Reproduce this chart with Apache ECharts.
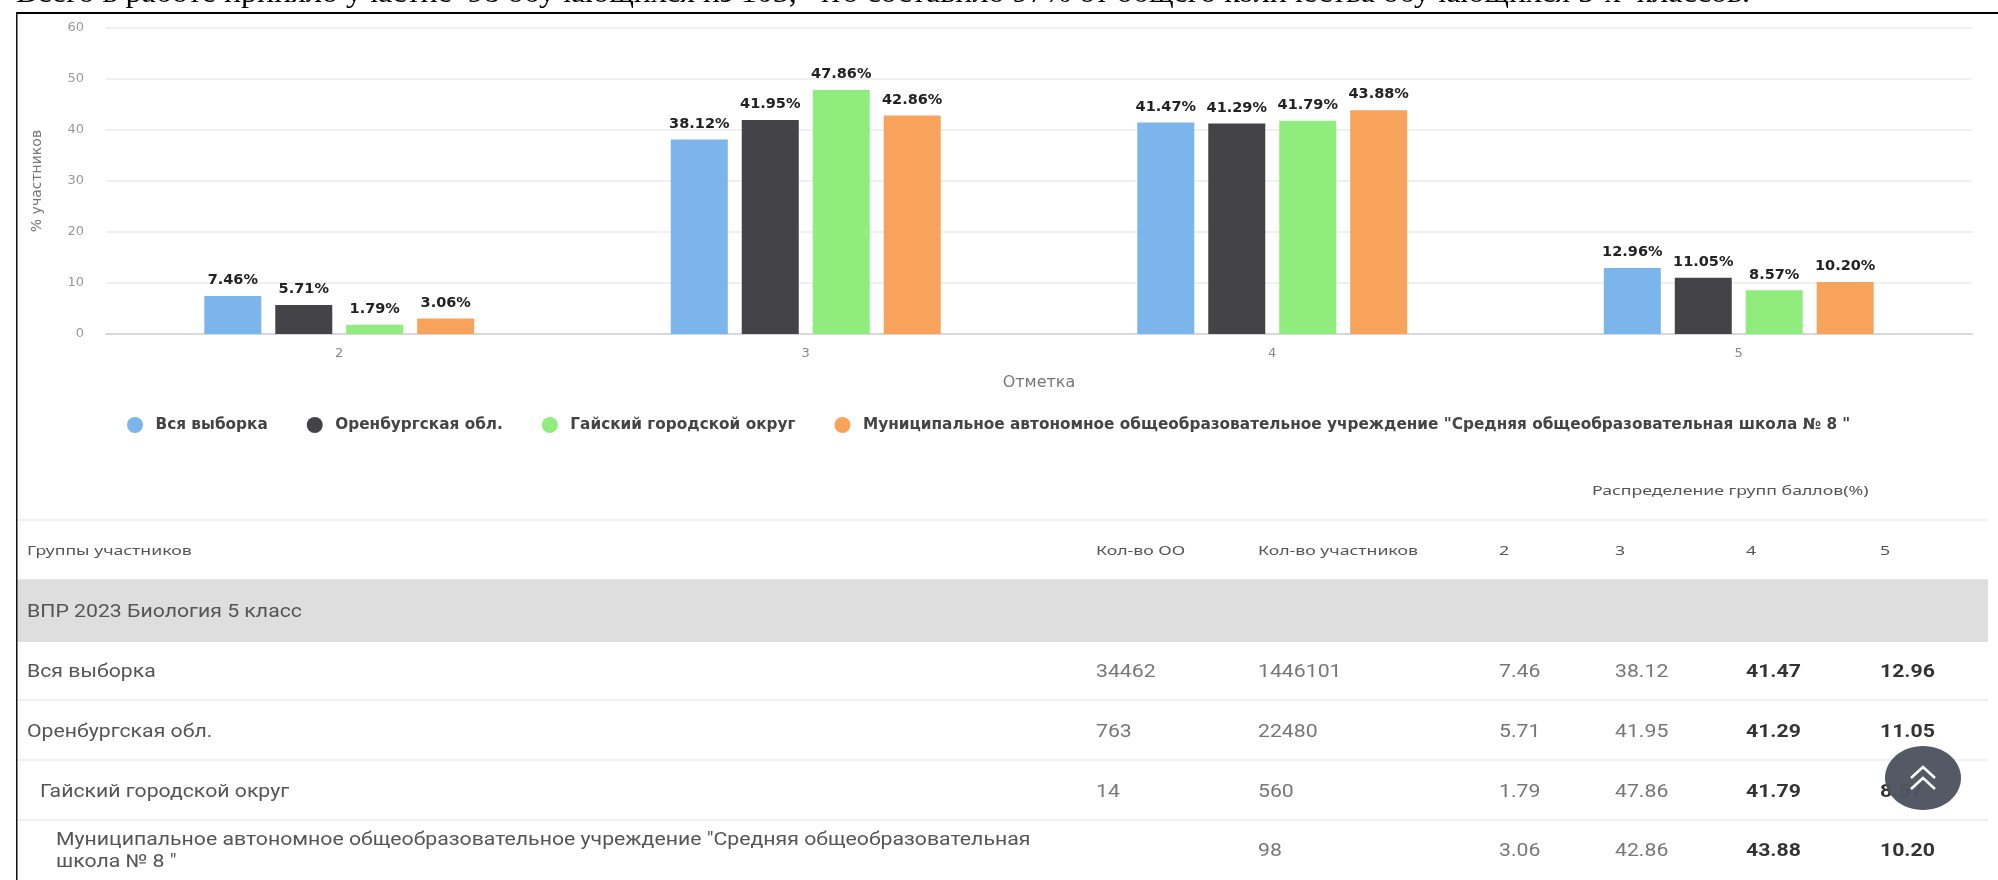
<!DOCTYPE html>
<html><head><meta charset="utf-8">
<script src="https://cdn.jsdelivr.net/npm/echarts@6/dist/echarts.min.js"></script>
<style>html,body{margin:0;padding:0;background:#fff}#c{width:1998px;height:880px}</style>
</head><body><div id="c"></div>
<script>
const categories = ['2','3','4','5'];
const seriesNames = ['Вся выборка','Оренбургская обл.','Гайский городской округ','Муниципальное автономное общеобразовательное учреждение "Средняя общеобразовательная школа № 8 "'];
const allSample = [7.46,38.12,41.47,12.96];
const oblast = [5.71,41.95,41.29,11.05];
const okrug = [1.79,47.86,41.79,8.57];
const school = [3.06,42.86,43.88,10.20];
const colors = ['#7cb5ec','#434348','#90ed7d','#f7a35c'];
const headline = 'Всего в работе приняло участие  98 обучающихся из 103,  что составило 97% от общего количества обучающихся 5-х  классов.';
const tableHeader = ['Кол-во ОО','Кол-во участников','2','3','4','5'];
const orgCounts = ['34462','763','14',''];
const participantCounts = ['1446101','22480','560','98'];
const rowValues = [allSample, oblast, okrug, school];

const font = '"Noto Sans", sans-serif';
const wide = '"DejaVu Sans", sans-serif';
const rowFont = 'Roboto, sans-serif';
const g = [];
function txt(x,y,t,size,color,weight,align,sx,fam){
  g.push({type:'text',x:x,y:y,scaleX:sx||1,z:5,style:{text:t,fontSize:size,fontFamily:fam||rowFont,fill:color,fontWeight:weight||'normal',align:align||'left',verticalAlign:'middle'}});
}
function rect(x,y,w,h,c,z){ g.push({type:'rect',shape:{x,y,width:w,height:h},z:z||1,silent:true,style:{fill:c}}); }

g.push({type:'text',x:16,y:-6,scaleX:1.067,z:6,style:{text:headline,fontSize:30,fontFamily:'"Liberation Serif", serif',fill:'#000',align:'left',verticalAlign:'middle'}});
rect(16,12,1982,2,'#000',6);
rect(16,12,1.5,868,'#111',6);

// table
rect(17,580,1971,62,'#dedede');
[520,700,760,820].forEach(y=>rect(17,y-1,1971,2,'#f1f1f1'));
rect(17,579,1971,1,'#e6e6e6');
const cols=[1096,1258,1499,1615,1746,1880];
const HS=1.36, RS=1.18;
txt(1592,491,'Распределение групп баллов(%)',13,'#555','normal','left',HS,font);
txt(27,551,'Группы участников',13,'#555','normal','left',HS,font);
tableHeader.forEach((t,i)=>txt(cols[i],551,t,13,'#555','normal','left',HS,font));
txt(27,612,'ВПР 2023 Биология 5 класс',18,'#555','normal','left',RS);
const rowY=[672,732,792,851];
const rowX=[27,27,40,56];
const rowLabels=[seriesNames[0],seriesNames[1],seriesNames[2]];
rowLabels.forEach((t,i)=>txt(rowX[i],rowY[i],t,18,'#555','normal','left',RS));
txt(56,840,'Муниципальное автономное общеобразовательное учреждение "Средняя общеобразовательная',18,'#555','normal','left',RS);
txt(56,862,'школа № 8 "',18,'#555','normal','left',RS);
rowValues.forEach((vals,i)=>{
  txt(cols[0],rowY[i],orgCounts[i],18,'#777','normal','left',RS);
  txt(cols[1],rowY[i],participantCounts[i],18,'#777','normal','left',RS);
  vals.forEach((v,j)=>{
    const bold=j>=2;
    txt(cols[j+2],rowY[i],v.toFixed(2),18,bold?'#333':'#777',bold?'bold':'normal','left',RS);
  });
});
// scroll-to-top button
g.push({type:'ellipse',shape:{cx:1923,cy:778,rx:38,ry:32},z:7,style:{fill:'#4d5560',opacity:0.97}});
[[767,778],[778,789]].forEach(p=>g.push({type:'polyline',z:8,shape:{points:[[1911,p[1]],[1923,p[0]],[1935,p[1]]]},style:{stroke:'#fff',lineWidth:2.5,fill:null}}));

const chart = echarts.init(document.getElementById('c'),null,{renderer:'canvas'});
chart.setOption({
  animation:false,
  backgroundColor:'#fff',
  color:colors,
  grid:{left:106,right:26,top:28,bottom:546,containLabel:false},
  legend:{left:122,top:412,itemWidth:19,itemHeight:16,itemGap:39,icon:'circle',
    data:seriesNames,
    textStyle:{fontFamily:wide,fontSize:15.3,fontWeight:'bold',color:'#444',padding:[0,0,0,6]}},
  xAxis:{type:'category',data:categories,
    name:'Отметка',nameLocation:'middle',nameGap:41,
    nameTextStyle:{color:'#777',fontSize:16,fontFamily:wide},
    axisLine:{lineStyle:{color:'#d5d8dd',width:2}},axisTick:{show:false},
    axisLabel:{color:'#888',fontSize:13,fontFamily:wide,margin:13}},
  yAxis:{type:'value',min:0,max:60,interval:10,
    name:'% участников',nameLocation:'middle',nameGap:62,
    nameTextStyle:{color:'#777',fontSize:14,fontFamily:wide},
    axisLine:{show:false},axisTick:{show:false},
    splitLine:{lineStyle:{color:'#f0f0f0',width:2}},
    axisLabel:{color:'#999',fontSize:13,fontFamily:wide,margin:22}},
  series:[allSample,oblast,okrug,school].map((d,i)=>({
    type:'bar',name:seriesNames[i],data:d,barWidth:57,barGap:'24.5%',
    label:{show:true,position:'top',distance:8,fontFamily:wide,fontSize:14.5,fontWeight:'bold',color:'#222',
      formatter:p=>p.value.toFixed(2)+'%'}
  })),
  graphic:{elements:g}
});
</script></body></html>
